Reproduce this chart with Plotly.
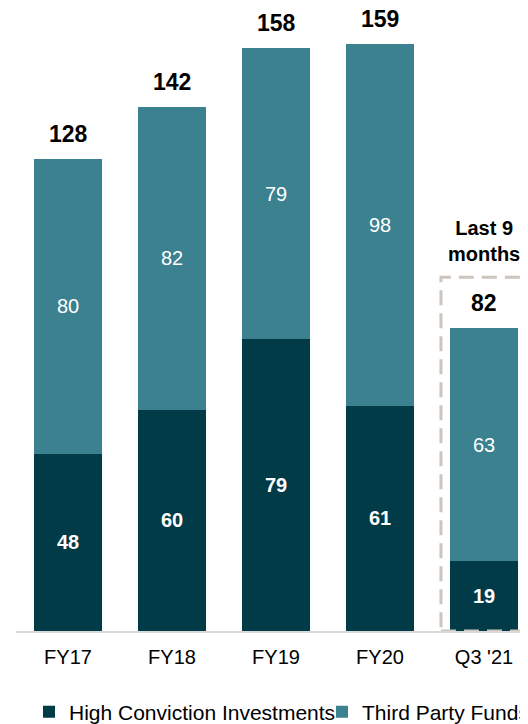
import plotly.graph_objects as go

categories = ["FY17", "FY18", "FY19", "FY20", "Q3 '21"]
high_conviction = [48, 60, 79, 61, 19]
third_party = [80, 82, 79, 98, 63]
totals = [a + b for a, b in zip(high_conviction, third_party)]

DARK = "#003B47"
LIGHT = "#3B8190"
FONT = "Liberation Sans, Arial, sans-serif"

W, H = 520, 716  # page body has an 8px margin

fig = go.Figure()
fig.add_trace(go.Bar(
    x=categories, y=high_conviction, name="High Conviction Investments",
    marker=dict(color=DARK, line=dict(width=0)),
    text=high_conviction, texttemplate="<b>%{text}</b>",
    textposition="inside", insidetextanchor="middle", textangle=0,
    constraintext="none",
    textfont=dict(color="white", size=20, family=FONT),
    width=0.66, legend="legend",
))
fig.add_trace(go.Bar(
    x=categories, y=third_party, name="Third Party Funds",
    marker=dict(color=LIGHT, line=dict(width=0)),
    text=third_party, texttemplate="%{text}",
    textposition="inside", insidetextanchor="middle", textangle=0,
    constraintext="none",
    textfont=dict(color="white", size=20, family=FONT),
    width=0.66, legend="legend2",
))

for c, t in zip(categories, totals):
    fig.add_annotation(x=c, y=t, text=f"<b>{t}</b>", showarrow=False,
                       yanchor="middle", yshift=25,
                       font=dict(size=23, color="black", family=FONT))

fig.add_annotation(x=categories[-1], y=105.7, text="<b>Last 9<br>months</b>",
                   showarrow=False, yanchor="middle",
                   font=dict(size=20, color="black", family=FONT))

fig.add_shape(type="rect", xref="x", yref="y", x0=3.586, x1=4.365, y0=0, y1=95.9,
              line=dict(color="#CDC5BD", width=3, dash="15px,8px"),
              fillcolor="rgba(0,0,0,0)", layer="above")

fig.update_layout(
    width=W, height=H,
    barmode="stack",
    plot_bgcolor="white", paper_bgcolor="white",
    margin=dict(l=8, r=0, t=0, b=93, autoexpand=False),
    font=dict(family=FONT, size=20, color="black"),
    xaxis=dict(range=[-0.5, 4.423], showline=True, linecolor="#D9D9D9", linewidth=2,
               ticks="", showgrid=False, tickfont=dict(size=20, color="black"),
               ticklabelstandoff=7, fixedrange=True, automargin=False),
    yaxis=dict(range=[0, 623 / 3.69], visible=False, showgrid=False, fixedrange=True,
               automargin=False),
    legend=dict(orientation="h", xref="container", yref="container",
                x=21 / W, y=1 - 704 / H, xanchor="left", yanchor="middle",
                font=dict(size=21, color="black", family=FONT),
                itemwidth=30, bgcolor="rgba(0,0,0,0)"),
    legend2=dict(orientation="h", xref="container", yref="container",
                 x=314 / W, y=1 - 704 / H, xanchor="left", yanchor="middle",
                 font=dict(size=21, color="black", family=FONT),
                 itemwidth=30, bgcolor="rgba(0,0,0,0)"),
    showlegend=True,
)

fig.write_html("out.html")
